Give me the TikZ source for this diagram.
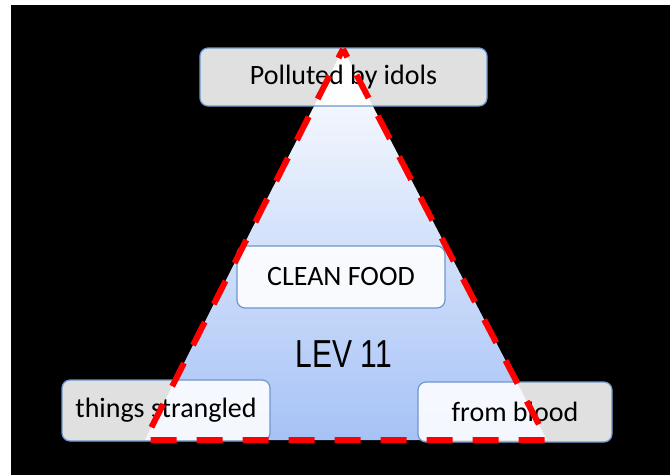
\documentclass[tikz,border=0pt]{standalone}
\usepackage{fontspec}
\setmainfont{Carlito}
\newfontfamily\levfont{Liberation Sans}
\definecolor{boxblue}{RGB}{110,150,205}
\definecolor{tribot}{RGB}{166,194,246}
\definecolor{trimid}{RGB}{202,218,250}
\definecolor{dashred}{RGB}{255,0,0}
\tikzset{
  labelbox/.style={draw=boxblue, line width=1.2pt, rounded corners=8pt,
    fill=white, fill opacity=0.88, text opacity=1, inner sep=0pt,
    font=\fontsize{28}{32}\selectfont, text=black},
  reddash/.style={draw=dashred, line width=6pt, dash pattern=on 26pt off 20pt,
    dash phase=16pt, line join=miter}
}
\begin{document}
\begin{tikzpicture}[x=1pt,y=-1pt]
\useasboundingbox (0,0) rectangle (670,475);
\fill[white] (0,0) rectangle (670,475);
\fill[black] (11,5) rectangle (670,475);
\coordinate (apex) at (343,49);
\coordinate (bl) at (145,440);
\coordinate (br) at (547,440);
\shade[top color=white, middle color=trimid, bottom color=tribot]
  (apex) -- (bl) -- (br) -- cycle;
\node[labelbox, minimum width=287pt, minimum height=58pt] (idols) at (343.5,77) {Polluted by idols};
\node[labelbox, minimum width=208pt, minimum height=62pt] (clean) at (341,277) {CLEAN FOOD};
\node[labelbox, minimum width=208pt, minimum height=61pt] (strangled) at (166,410.5) {things strangled};
\node[labelbox, minimum width=194pt, minimum height=60pt] (blood) at (515,412) {from blood};
\node[font=\levfont\fontsize{30}{34}\selectfont, text=black, inner sep=0pt] (lev) at (344,354) {\scalebox{1}[1.3]{LEV 11}};
\draw[reddash] (apex) -- (bl) -- (br) -- cycle;
\end{tikzpicture}
\end{document}
